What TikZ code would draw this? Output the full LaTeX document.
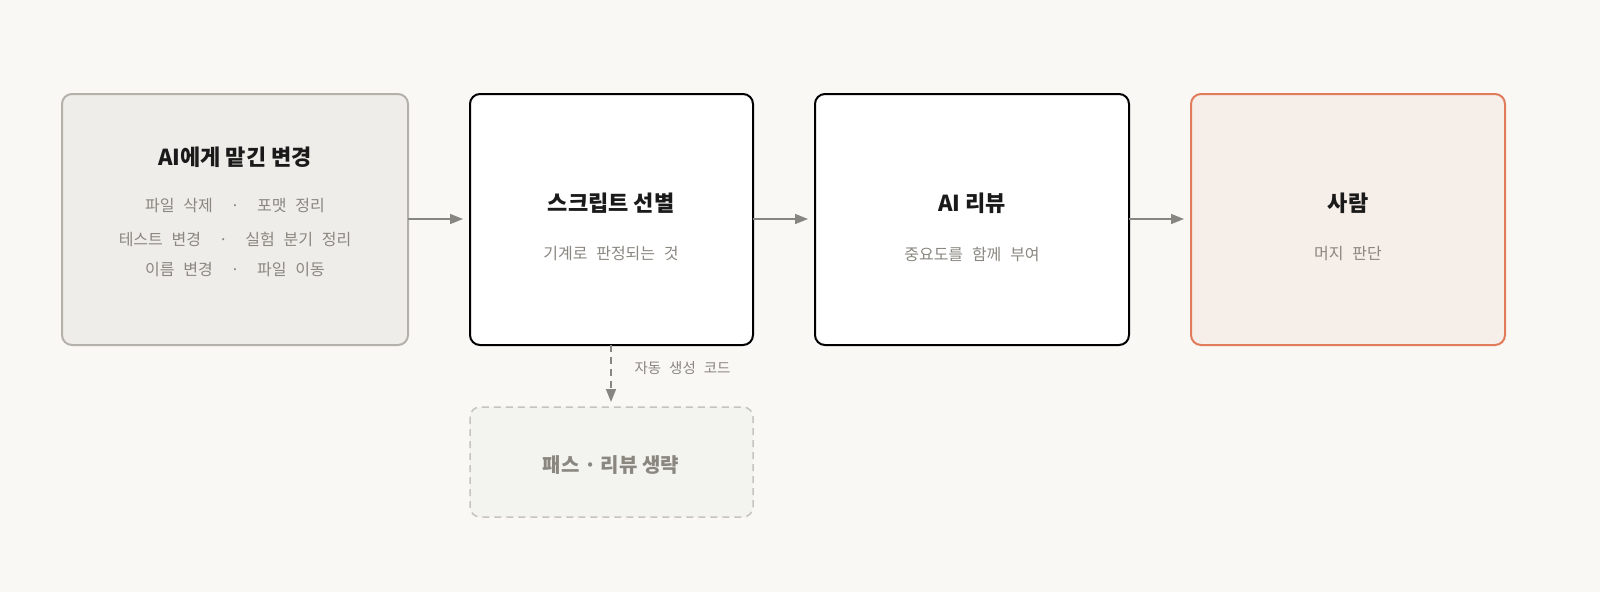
\documentclass[tikz,border=0pt]{standalone}
\usepackage{fontspec}
\setmainfont{Noto Sans CJK KR}
\newfontfamily\kr{Noto Sans CJK KR}
\usetikzlibrary{arrows.meta}
\definecolor{bg}{HTML}{F9F8F5}
\definecolor{graybox}{HTML}{EEEDE9}
\definecolor{graystroke}{HTML}{B3B1A9}
\definecolor{peach}{HTML}{F6EEE9}
\definecolor{orange}{HTML}{E07B5B}
\definecolor{subtext}{HTML}{8A8780}
\definecolor{arrowc}{HTML}{878680}
\definecolor{dashfill}{HTML}{F3F3EF}
\definecolor{dashstroke}{HTML}{C6C4BE}
\definecolor{titlec}{HTML}{1A1A1A}
\tikzset{
  box/.style={rounded corners=10pt, line width=2pt},
  ttl/.style={font=\kr\bfseries\fontsize{22}{26}\selectfont, text=titlec},
  sub/.style={font=\kr\fontsize{16}{20}\selectfont, text=subtext},
  flow/.style={draw=arrowc, line width=1.6pt, -{Triangle[length=13pt,width=10pt]}},
}
\newcommand{\gap}{\hspace{0.55em}}
\begin{document}
\begin{tikzpicture}[x=1pt,y=-1pt]
\useasboundingbox[fill=bg] (0,0) rectangle (1600,592);
% boxes
\draw[box, fill=graybox, draw=graystroke] (62,94) rectangle (408,345);
\draw[box, fill=white, draw=black] (470,94) rectangle (753,345);
\draw[box, fill=white, draw=black] (815,94) rectangle (1129,345);
\draw[box, fill=peach, draw=orange] (1191,94) rectangle (1505,345);
\draw[box, line width=1.5pt, fill=dashfill, draw=dashstroke, dash pattern=on 7pt off 5pt] (470,407) rectangle (753,517);
% named anchors
\coordinate (b1e) at (408,219);
\coordinate (b2w) at (463,219);
\coordinate (b2e) at (753,219);
\coordinate (b3w) at (808,219);
\coordinate (b3e) at (1129,219);
\coordinate (b4w) at (1184,219);
\coordinate (b2s) at (611,345);
\coordinate (b5n) at (611,402);
% texts
\node[ttl] (t1) at (235,157) {AI에게 맡긴 변경};
\node[sub] (s1a) at (235,206) {파일\gap 삭제\gap\gap·\gap\gap 포맷\gap 정리};
\node[sub] (s1b) at (235,239) {테스트\gap 변경\gap\gap·\gap\gap 실험\gap 분기\gap 정리};
\node[sub] (s1c) at (235,270) {이름\gap 변경\gap\gap·\gap\gap 파일\gap 이동};
\node[ttl] (t2) at (611,203) {스크립트 선별};
\node[sub] (s2) at (611,254) {기계로\gap 판정되는\gap 것};
\node[ttl] (t3) at (972,203) {AI 리뷰};
\node[sub] (s3) at (972,254) {중요도를\gap 함께\gap 부여};
\node[ttl] (t4) at (1348,203) {사람};
\node[sub] (s4) at (1348,254) {머지\gap 판단};
\node[font=\kr\bfseries\fontsize{20}{24}\selectfont, text=subtext] (t5) at (611,465) {패스 · 리뷰 생략};
\node[sub, font=\kr\fontsize{14.5}{18}\selectfont, anchor=west] (lbl) at (631,368) {자동\gap 생성\gap 코드};
% arrows
\draw[flow] (b1e) -- (b2w);
\draw[flow] (b2e) -- (b3w);
\draw[flow] (b3e) -- (b4w);
\draw[flow, dash pattern=on 7pt off 5pt] (b2s) -- (b5n);
\end{tikzpicture}
\end{document}
